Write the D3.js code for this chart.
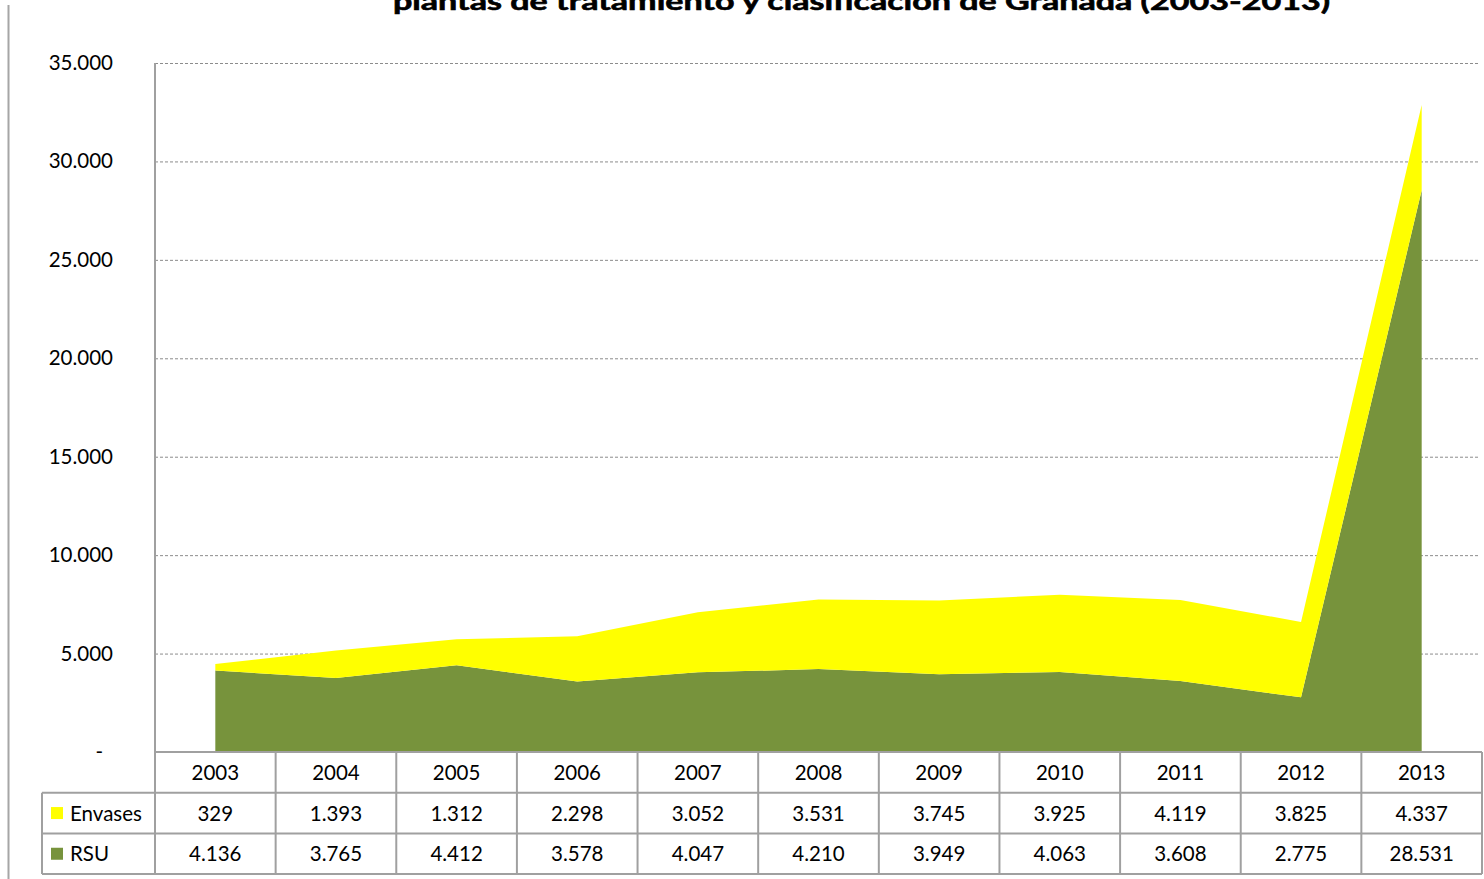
<!DOCTYPE html>
<html>
<head>
<meta charset="utf-8">
<script src="https://cdn.jsdelivr.net/npm/d3@7/dist/d3.min.js"></script>
<style>
html,body{margin:0;padding:0;background:#fff;}
svg{display:block;font-family:Lato,"Open Sans",sans-serif;}
</style>
</head>
<body>
<svg id="chart" width="1484" height="879"></svg>
<script>
const years = ["2003","2004","2005","2006","2007","2008","2009","2010","2011","2012","2013"];
const rsu = [4136,3765,4412,3578,4047,4210,3949,4063,3608,2775,28531];
const envases = [329,1393,1312,2298,3052,3531,3745,3925,4119,3825,4337];
const seriesNames = ["RSU","Envases"];
const seriesLabels = ["Envases","RSU"];
const yTicks = [0,5000,10000,15000,20000,25000,30000,35000];
const titleText = "plantas de tratamiento y clasificación de Granada (2003-2013)";

(function(){
const colors = {RSU:"#77933C", Envases:"#FFFF00"};
const svg = d3.select("#chart");
const pLeft = 155, pRight = 1482, pTop = 63, pBottom = 752;
const rowH = 40.7;

const x = d3.scaleBand().domain(years).range([pLeft, pRight]);
const y = d3.scaleLinear().domain([0,35000]).range([pBottom, pTop]);
const fmt = v => v === 0 ? "-" : d3.format(",")(v).replace(/,/g,".");

// outer left border
svg.append("line").attr("x1",8.5).attr("x2",8.5).attr("y1",5).attr("y2",879)
  .attr("stroke","#a6a6a6").attr("stroke-width",2);

// title (second line, clipped at top as in the reference)
svg.append("text").attr("x",393).attr("y",10).attr("font-weight","bold")
  .attr("font-size",24).attr("fill","#000")
  .attr("stroke","#000").attr("stroke-width",0.6)
  .attr("textLength",937).attr("lengthAdjust","spacingAndGlyphs")
  .text(titleText);

// gridlines
svg.append("g").selectAll("line").data(yTicks.filter(d=>d>0)).join("line")
  .attr("x1",pLeft).attr("x2",1480).attr("y1",d=>y(d)+0.5).attr("y2",d=>y(d)+0.5)
  .attr("stroke","#8c8c8c").attr("stroke-width",1).attr("stroke-dasharray","3,2");

// stacked data
const table = years.map((yr,i)=>({year:yr, RSU:rsu[i], Envases:envases[i]}));
const stack = d3.stack().keys(seriesNames)(table);
const area = d3.area()
  .x(d=>x(d.data.year)+x.bandwidth()/2)
  .y0(d=>y(d[0])).y1(d=>y(d[1]));
svg.append("g").selectAll("path").data(stack).join("path")
  .attr("d",area).attr("fill",d=>colors[d.key]);

// y axis labels
svg.append("g").selectAll("text").data(yTicks).join("text")
  .attr("x",d=>d===0?103:113).attr("y",d=>y(d)+7).attr("text-anchor","end")
  .attr("font-size",20.5).attr("fill","#000").text(fmt);

// table lines
const g = svg.append("g").attr("stroke","#a0a0a0").attr("stroke-width",2);
g.append("line").attr("x1",pLeft).attr("x2",pLeft).attr("y1",pTop).attr("y2",pBottom+3*rowH);
[0,1,2,3].forEach(r=>{
  g.append("line").attr("x1", r===0?pLeft:42).attr("x2",pRight)
    .attr("y1",pBottom+r*rowH).attr("y2",pBottom+r*rowH);
});
years.forEach(yr=>{
  g.append("line").attr("x1",x(yr)+x.bandwidth()).attr("x2",x(yr)+x.bandwidth())
    .attr("y1",pBottom).attr("y2",pBottom+3*rowH);
});
g.append("line").attr("x1",42).attr("x2",42).attr("y1",pBottom+rowH).attr("y2",pBottom+3*rowH);

// year labels
svg.append("g").selectAll("text").data(years).join("text")
  .attr("x",d=>x(d)+x.bandwidth()/2).attr("y",pBottom+rowH/2+7.5)
  .attr("text-anchor","middle").attr("font-size",20.5).text(d=>d);

// data rows
const rows = [{name:"Envases", vals:envases},{name:"RSU", vals:rsu}];
rows.forEach((row,r)=>{
  const cy = pBottom+(r+1)*rowH+rowH/2;
  svg.append("rect").attr("x",51).attr("y",cy-6).attr("width",12).attr("height",12)
    .attr("fill",colors[row.name]);
  svg.append("text").attr("x",70).attr("y",cy+7.5).attr("font-size",20.5).text(seriesLabels[r]);
  svg.append("g").selectAll("text").data(row.vals).join("text")
    .attr("x",(d,i)=>x(years[i])+x.bandwidth()/2).attr("y",cy+7.5)
    .attr("text-anchor","middle").attr("font-size",20.5).text(fmt);
});
})();
</script>
</body>
</html>
